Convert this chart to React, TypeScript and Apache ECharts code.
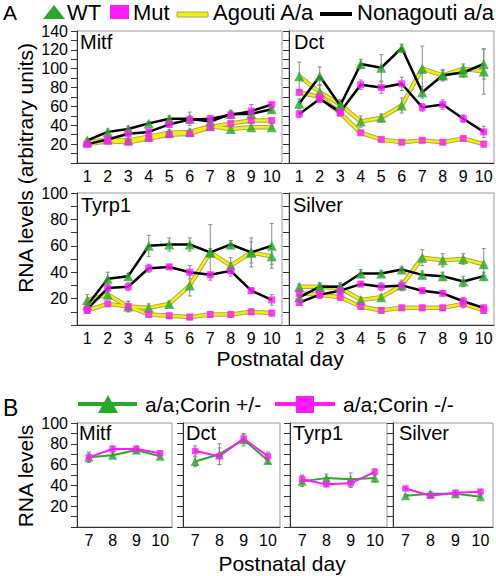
import React, { useEffect, useRef } from 'react';
import * as echarts from 'echarts';

const FONT = '"Liberation Sans", Arial, Helvetica, sans-serif';
const GREEN = '#2aa82a';
const MAGENTA = '#ff19ff';
const YELLOW = '#f6f000';
const YELLOW_EDGE = '#a8a860';

const daysA = ['1', '2', '3', '4', '5', '6', '7', '8', '9', '10'];
const daysB = ['7', '8', '9', '10'];

// Panel A: Mitf
const mitfWTAg = [22, 25, 24, 28, 32, 33, 39, 36, 38, 38];
const mitfWTAgErr = [2, 2, 2, 2, 3, 3, 2, 2, 2, 2];
const mitfMutAg = [20, 23, 22, 26, 30, 31, 38, 42, 45, 45];
const mitfMutAgErr = [2, 2, 2, 2, 2, 2, 2, 2, 2, 2];
const mitfWTNon = [24, 33, 36, 42, 47, 47, 44, 52, 52, 57];
const mitfWTNonErr = [2, 3, 3, 2, 3, 7, 3, 4, 4, 3];
const mitfMutNon = [20, 25, 31, 33, 41, 46, 47, 51, 55, 62];
const mitfMutNonErr = [2, 2, 2, 2, 3, 4, 3, 3, 7, 2];

// Panel A: Dct
const dctWTAg = [92, 75, 62, 44, 48, 61, 100, 93, 100, 97];
const dctWTAgErr = [15, 8, 5, 6, 4, 8, 24, 5, 5, 24];
const dctMutAg = [75, 70, 53, 32, 25, 22, 24, 22, 26, 20];
const dctMutAgErr = [3, 3, 3, 2, 2, 2, 2, 2, 2, 3];
const dctWTNon = [63, 92, 61, 105, 101, 122, 75, 93, 96, 105];
const dctWTNonErr = [5, 10, 6, 5, 14, 4, 6, 6, 5, 16];
const dctMutNon = [52, 68, 54, 83, 80, 84, 59, 62, 47, 33];
const dctMutNonErr = [4, 4, 4, 5, 6, 7, 4, 5, 4, 6];

// Panel A: Tyrp1
const tyrWTAg = [19, 23, 14, 13, 16, 30, 55, 45, 55, 52];
const tyrWTAgErr = [4, 3, 4, 3, 2, 8, 21, 6, 11, 6];
const tyrMutAg = [11, 16, 14, 8, 7, 6, 8, 8, 10, 9];
const tyrMutAgErr = [2, 2, 4, 2, 2, 2, 2, 2, 2, 2];
const tyrWTNon = [15, 35, 37, 60, 61, 61, 55, 61, 55, 60];
const tyrWTNonErr = [3, 5, 2, 8, 5, 5, 3, 3, 8, 17];
const tyrMutNon = [12, 28, 29, 43, 44, 40, 38, 41, 26, 19];
const tyrMutNonErr = [2, 3, 3, 3, 2, 5, 2, 4, 2, 4];

// Panel A: Silver
const silWTAg = [29, 29, 28, 19, 21, 30, 51, 49, 50, 46];
const silWTAgErr = [2, 2, 3, 2, 2, 3, 6, 5, 4, 12];
const silMutAg = [24, 23, 21, 14, 11, 13, 13, 13, 16, 11];
const silMutAgErr = [2, 2, 2, 2, 2, 2, 2, 2, 3, 2];
const silWTNon = [21, 29, 29, 39, 39, 42, 38, 37, 33, 37];
const silWTNonErr = [2, 3, 3, 3, 2, 2, 3, 3, 4, 3];
const silMutNon = [17, 23, 26, 31, 29, 30, 26, 24, 18, 13];
const silMutNonErr = [2, 3, 2, 2, 3, 4, 2, 2, 3, 2];

// Panel B
const bMitfHet = [67, 69, 74, 68];
const bMitfHetErr = [5, 2, 3, 2];
const bMitfKO = [67, 75, 75, 71];
const bMitfKOErr = [4, 3, 3, 2];
const bDctHet = [63, 70, 84, 64];
const bDctHetErr = [5, 10, 6, 3];
const bDctKO = [73, 68, 85, 68];
const bDctKOErr = [5, 8, 4, 4];
const bTyrHet = [44, 47, 46, 47];
const bTyrHetErr = [5, 4, 6, 4];
const bTyrKO = [46, 41, 42, 53];
const bTyrKOErr = [4, 2, 4, 3];
const bSilHet = [30, 32, 32, 29];
const bSilHetErr = [1, 2, 3, 1];
const bSilKO = [37, 30, 33, 34];
const bSilKOErr = [1, 2, 2, 2];

const gridsPos = [
  { left: 77, top: 31, width: 205, height: 132 },
  { left: 289, top: 31, width: 205, height: 132 },
  { left: 77, top: 193, width: 205, height: 132 },
  { left: 289, top: 193, width: 205, height: 132 },
  { left: 77, top: 423, width: 95, height: 104 },
  { left: 183, top: 423, width: 97, height: 104 },
  { left: 290, top: 423, width: 97, height: 104 },
  { left: 393, top: 423, width: 100, height: 104 },
];

function errSeries(gi: number, pairs: [number[], number[]][]) {
  const data: number[][] = [];
  pairs.forEach(([vals, errs]) => {
    vals.forEach((v, i) => data.push([i, v - errs[i], v + errs[i]]));
  });
  return {
    type: 'custom',
    xAxisIndex: gi,
    yAxisIndex: gi,
    z: 1,
    silent: true,
    encode: { x: 0, y: [1, 2] },
    data,
    renderItem: (_p: any, api: any) => {
      const x = api.value(0);
      const lo = api.coord([x, api.value(1)]);
      const hi = api.coord([x, api.value(2)]);
      const w = 2;
      const style = { stroke: '#8a8a8a', lineWidth: 1 };
      return {
        type: 'group',
        children: [
          { type: 'line', shape: { x1: lo[0], y1: lo[1], x2: hi[0], y2: hi[1] }, style },
          { type: 'line', shape: { x1: lo[0] - w, y1: lo[1], x2: lo[0] + w, y2: lo[1] }, style },
          { type: 'line', shape: { x1: hi[0] - w, y1: hi[1], x2: hi[0] + w, y2: hi[1] }, style },
        ],
      };
    },
  };
}

function lineS(gi: number, data: number[], color: string, width: number, z: number) {
  return {
    type: 'line',
    xAxisIndex: gi,
    yAxisIndex: gi,
    data,
    symbol: 'none',
    z,
    silent: true,
    lineStyle: { color, width },
  };
}

function markS(gi: number, data: number[], kind: 'wt' | 'mut', big: boolean) {
  return {
    type: 'scatter',
    xAxisIndex: gi,
    yAxisIndex: gi,
    data,
    z: 5,
    silent: true,
    symbol: kind === 'wt' ? 'triangle' : 'rect',
    symbolSize: kind === 'wt' ? (big ? 10 : 9) : (big ? 7 : 6.5),
    itemStyle: { color: kind === 'wt' ? GREEN : MAGENTA },
  };
}

function panelA(gi: number, wtAg: number[], wtAgE: number[], mutAg: number[], mutAgE: number[],
  wtNon: number[], wtNonE: number[], mutNon: number[], mutNonE: number[]) {
  return [
    errSeries(gi, [[wtAg, wtAgE], [mutAg, mutAgE], [wtNon, wtNonE], [mutNon, mutNonE]]),
    lineS(gi, wtAg, YELLOW_EDGE, 4.5, 2),
    lineS(gi, mutAg, YELLOW_EDGE, 4.5, 2),
    lineS(gi, wtAg, YELLOW, 2.5, 3),
    lineS(gi, mutAg, YELLOW, 2.5, 3),
    lineS(gi, wtNon, '#000', 2.5, 4),
    lineS(gi, mutNon, '#000', 2.5, 4),
    markS(gi, wtAg, 'wt', true),
    markS(gi, wtNon, 'wt', true),
    markS(gi, mutAg, 'mut', true),
    markS(gi, mutNon, 'mut', true),
  ];
}

function panelB(gi: number, het: number[], hetE: number[], ko: number[], koE: number[]) {
  return [
    errSeries(gi, [[het, hetE], [ko, koE]]),
    lineS(gi, het, GREEN, 2, 3),
    lineS(gi, ko, MAGENTA, 2, 4),
    markS(gi, het, 'wt', false),
    markS(gi, ko, 'mut', false),
  ];
}

function makeX(gi: number) {
  const isB = gi >= 4;
  return {
    type: 'category',
    gridIndex: gi,
    data: isB ? daysB : daysA,
    boundaryGap: true,
    axisLine: { show: true, lineStyle: { color: '#333', width: 1 } },
    axisTick: { show: false },
    axisLabel: {
      show: true,
      interval: 0,
      hideOverlap: false,
      color: '#000',
      fontSize: 16,
      fontFamily: FONT,
      margin: 5,
    },
    splitLine: { show: false },
  };
}

function makeY(gi: number) {
  const max = gi <= 1 ? 140 : 100;
  const showLabels = gi === 0 || gi === 2 || gi === 4;
  return {
    type: 'value',
    gridIndex: gi,
    min: 0,
    max,
    interval: 20,
    axisLine: { show: true, lineStyle: { color: '#333', width: 1 } },
    axisTick: { show: true, length: 6, lineStyle: { color: '#333' } },
    minorTick: { show: true, splitNumber: 2, length: 6, lineStyle: { color: '#333' } },
    axisLabel: {
      show: showLabels,
      color: '#000',
      fontSize: 16,
      fontFamily: FONT,
      margin: 9,
      formatter: (v: number) => (v === 0 ? '' : String(v)),
    },
    splitLine: { show: false },
    minorSplitLine: { show: false },
  };
}

function txt(x: number, y: number, text: string, size: number, align = 'left', rotation = 0) {
  return {
    type: 'text',
    x,
    y,
    rotation,
    silent: true,
    style: {
      text,
      fill: '#000',
      fontSize: size,
      fontFamily: FONT,
      align,
      verticalAlign: 'middle',
    },
  };
}

export default function App() {
  const ref = useRef<HTMLDivElement>(null);
  useEffect(() => {
    if (!ref.current) return;
    const chart = echarts.init(ref.current, undefined, { renderer: 'svg' });
    const series: any[] = [
      ...panelA(0, mitfWTAg, mitfWTAgErr, mitfMutAg, mitfMutAgErr, mitfWTNon, mitfWTNonErr, mitfMutNon, mitfMutNonErr),
      ...panelA(1, dctWTAg, dctWTAgErr, dctMutAg, dctMutAgErr, dctWTNon, dctWTNonErr, dctMutNon, dctMutNonErr),
      ...panelA(2, tyrWTAg, tyrWTAgErr, tyrMutAg, tyrMutAgErr, tyrWTNon, tyrWTNonErr, tyrMutNon, tyrMutNonErr),
      ...panelA(3, silWTAg, silWTAgErr, silMutAg, silMutAgErr, silWTNon, silWTNonErr, silMutNon, silMutNonErr),
      ...panelB(4, bMitfHet, bMitfHetErr, bMitfKO, bMitfKOErr),
      ...panelB(5, bDctHet, bDctHetErr, bDctKO, bDctKOErr),
      ...panelB(6, bTyrHet, bTyrHetErr, bTyrKO, bTyrKOErr),
      ...panelB(7, bSilHet, bSilHetErr, bSilKO, bSilKOErr),
    ];
    const graphic: any[] = [
      // Legend A
      txt(3, 12, 'A', 21),
      { type: 'polygon', shape: { points: [[43, 19], [54, 5], [65, 19]] }, style: { fill: GREEN } },
      txt(67, 12, 'WT', 22),
      { type: 'rect', shape: { x: 110, y: 5, width: 19, height: 14 }, style: { fill: MAGENTA } },
      txt(133, 12, 'Mut', 22),
      { type: 'rect', shape: { x: 177, y: 12, width: 31, height: 5 }, style: { fill: YELLOW, stroke: YELLOW_EDGE, lineWidth: 1 } },
      txt(213, 12, 'Agouti A/a', 22),
      { type: 'line', shape: { x1: 320, y1: 14, x2: 352, y2: 14 }, style: { stroke: '#000', lineWidth: 4 } },
      txt(357, 12, 'Nonagouti a/a', 22),
      // Panel titles A
      txt(80, 42, 'Mitf', 20),
      txt(294, 42, 'Dct', 20),
      txt(81, 205, 'Tyrp1', 20),
      txt(293, 205, 'Silver', 20),
      // Axis titles A
      txt(25, 168, 'RNA levels (arbitrary units)', 21, 'center', Math.PI / 2),
      txt(280, 358, 'Postnatal day', 21, 'center'),
      // Legend B
      txt(3, 408, 'B', 23),
      { type: 'line', shape: { x1: 78, y1: 404, x2: 137, y2: 404 }, style: { stroke: GREEN, lineWidth: 4 } },
      { type: 'polygon', shape: { points: [[98, 413], [108, 395], [118, 413]] }, style: { fill: GREEN } },
      txt(145, 404, 'a/a;Corin +/-', 21),
      { type: 'line', shape: { x1: 275, y1: 404, x2: 335, y2: 404 }, style: { stroke: MAGENTA, lineWidth: 4 } },
      { type: 'rect', shape: { x: 296, y: 396, width: 18, height: 17 }, style: { fill: MAGENTA } },
      txt(343, 404, 'a/a;Corin -/-', 21),
      // Panel titles B
      txt(79, 433, 'Mitf', 20),
      txt(186, 433, 'Dct', 20),
      txt(293, 433, 'Tyrp1', 20),
      txt(399, 433, 'Silver', 20),
      // Axis titles B
      txt(25, 476, 'RNA levels', 21, 'center', Math.PI / 2),
      txt(282, 563, 'Postnatal day', 21, 'center'),
    ];
    chart.setOption({
      animation: false,
      backgroundColor: '#fff',
      textStyle: { fontFamily: FONT },
      grid: gridsPos.map((g) => ({ ...g, show: true, borderColor: '#999', borderWidth: 1, backgroundColor: 'transparent' })),
      xAxis: gridsPos.map((_, i) => makeX(i)),
      yAxis: gridsPos.map((_, i) => makeY(i)),
      series,
      graphic,
    });
    return () => chart.dispose();
  }, []);
  return (
    <div
      ref={ref}
      style={{ position: 'absolute', left: 0, top: 0, width: 496, height: 576, background: '#fff' }}
    />
  );
}
